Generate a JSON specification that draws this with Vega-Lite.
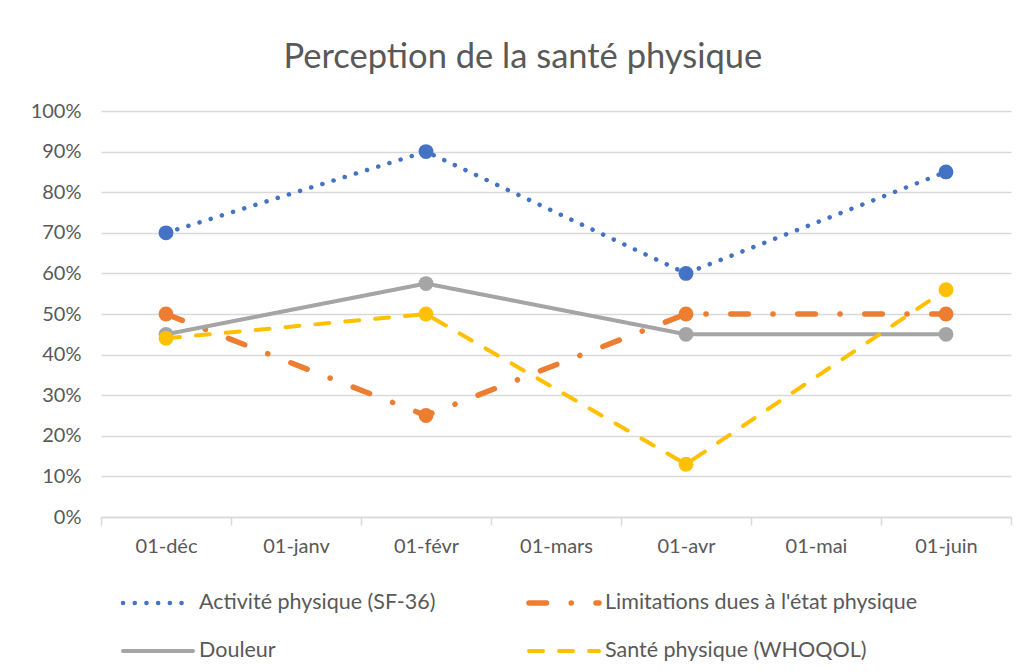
{
  "$schema": "https://vega.github.io/schema/vega-lite/v6.json",
  "width": 910,
  "height": 406,
  "padding": {"left": 0, "top": 39, "right": 5, "bottom": 5},
  "background": "white",
  "title": {"text": "Perception de la santé physique", "fontSize": 34.5, "font": "Lato", "fontWeight": "normal", "color": "#595959", "offset": 26, "anchor": "middle", "frame": "bounds", "dx": 17},
  "config": {"view": {"stroke": null}, "font": "Lato"},
  "data": {"values": [
    {"mois": "01-déc", "serie": "Activité physique (SF-36)", "valeur": 0.70},
    {"mois": "01-févr", "serie": "Activité physique (SF-36)", "valeur": 0.90},
    {"mois": "01-avr", "serie": "Activité physique (SF-36)", "valeur": 0.60},
    {"mois": "01-juin", "serie": "Activité physique (SF-36)", "valeur": 0.85},
    {"mois": "01-déc", "serie": "Limitations dues à l'état physique", "valeur": 0.50},
    {"mois": "01-févr", "serie": "Limitations dues à l'état physique", "valeur": 0.25},
    {"mois": "01-avr", "serie": "Limitations dues à l'état physique", "valeur": 0.50},
    {"mois": "01-juin", "serie": "Limitations dues à l'état physique", "valeur": 0.50},
    {"mois": "01-déc", "serie": "Douleur", "valeur": 0.45},
    {"mois": "01-févr", "serie": "Douleur", "valeur": 0.575},
    {"mois": "01-avr", "serie": "Douleur", "valeur": 0.45},
    {"mois": "01-juin", "serie": "Douleur", "valeur": 0.45},
    {"mois": "01-déc", "serie": "Santé physique (WHOQOL)", "valeur": 0.44},
    {"mois": "01-févr", "serie": "Santé physique (WHOQOL)", "valeur": 0.50},
    {"mois": "01-avr", "serie": "Santé physique (WHOQOL)", "valeur": 0.13},
    {"mois": "01-juin", "serie": "Santé physique (WHOQOL)", "valeur": 0.56}
  ]},
  "encoding": {
    "x": {"field": "mois", "type": "ordinal", "sort": null,
      "scale": {"domain": ["01-déc", "01-janv", "01-févr", "01-mars", "01-avr", "01-mai", "01-juin"], "paddingInner": 0, "paddingOuter": 0},
      "axis": {"title": null, "labelAngle": 0, "labelFontSize": 20, "labelColor": "#595959", "labelFont": "Lato", "domainColor": "#D9D9D9", "domainWidth": 1.5, "tickColor": "#D9D9D9", "tickWidth": 1.5, "tickBand": "extent", "tickSize": 8, "labelPadding": 11, "grid": false}},
    "y": {"field": "valeur", "type": "quantitative", "scale": {"domain": [0, 1]},
      "axis": {"title": null, "values": [0, 0.1, 0.2, 0.3, 0.4, 0.5, 0.6, 0.7, 0.8, 0.9, 1], "format": ".0%", "labelFontSize": 20, "labelColor": "#595959", "labelFont": "Lato", "domain": false, "ticks": false, "labelPadding": 20, "grid": true, "gridColor": "#D9D9D9", "gridWidth": 1.5, "minExtent": 101, "maxExtent": 101}},
    "color": {"field": "serie", "type": "nominal",
      "scale": {"domain": ["Activité physique (SF-36)", "Limitations dues à l'état physique", "Douleur", "Santé physique (WHOQOL)"], "range": ["#4472C4", "#ED7D31", "#A5A5A5", "#FFC000"]},
      "legend": {"title": null, "orient": "none", "legendX": 19, "legendY": 454, "direction": "horizontal", "columns": 2, "symbolType": "stroke", "symbolSize": 4900, "symbolStrokeWidth": 4, "labelFontSize": 21.5, "labelColor": "#595959", "labelFont": "Lato", "labelOffset": 3, "columnPadding": 82, "rowPadding": -40, "labelLimit": 400,
        "encode": {"symbols": {"update": {"strokeCap": {"value": "round"}}}}}}
  },
  "layer": [
    {"mark": {"type": "line", "strokeCap": "round", "strokeJoin": "round"},
     "encoding": {
       "strokeDash": {"field": "serie", "type": "nominal",
         "scale": {"domain": ["Activité physique (SF-36)", "Limitations dues à l'état physique", "Douleur", "Santé physique (WHOQOL)"], "range": [[0.1, 11.6], [17.5, 24.7, 0.1, 24.7], [1, 0], [14, 16]]}},
       "strokeWidth": {"field": "serie", "type": "nominal", "legend": null,
         "scale": {"type": "ordinal", "domain": ["Activité physique (SF-36)", "Limitations dues à l'état physique", "Douleur", "Santé physique (WHOQOL)"], "range": [4.5, 5.5, 4, 4]}}
     }},
    {"mark": {"type": "point", "filled": true, "opacity": 1, "size": 220, "shape": "circle"},
     "encoding": {}}
  ]
}
